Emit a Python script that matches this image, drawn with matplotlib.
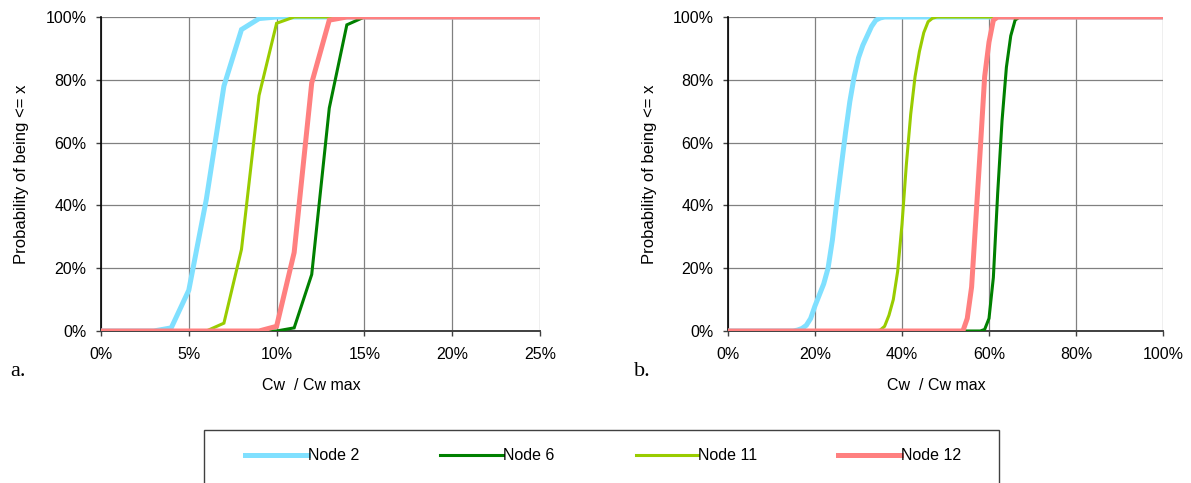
import matplotlib.pyplot as plt
from matplotlib.patches import Rectangle
from matplotlib.ticker import MultipleLocator, PercentFormatter

# Cumulative probability curves (x and y both in percent)
# panel a: Cw / Cw max from 0 to 25 %
a_node2_x = [0, 3, 4, 5, 6, 7, 8, 9, 10, 25]
a_node2_y = [0, 0, 1, 13, 42, 78, 96, 99.5, 100, 100]
a_node6_x = [0, 10, 11, 12, 13, 14, 15, 25]
a_node6_y = [0, 0, 1, 18, 71, 97.5, 100, 100]
a_node11_x = [0, 6, 7, 8, 9, 10, 11, 25]
a_node11_y = [0, 0, 2.5, 26, 75, 98, 100, 100]
a_node12_x = [0, 9, 10, 11, 12, 13, 14, 25]
a_node12_y = [0, 0, 1.5, 25, 79, 99, 100, 100]

# panel b: Cw / Cw max from 0 to 100 %
b_node2_x = [0, 15, 16, 17, 18, 19, 20, 21, 22, 23, 24, 25, 26, 27, 28, 29,
             30, 31, 32, 33, 34, 35, 36, 100]
b_node2_y = [0, 0, 0.3, 0.8, 1.8, 4, 8, 11.5, 15, 20, 29, 41, 52, 63, 73, 81,
             87, 91, 94, 97, 99, 99.7, 100, 100]
b_node6_x = [0, 58, 59, 60, 61, 62, 63, 64, 65, 66, 67, 100]
b_node6_y = [0, 0, 0.5, 4, 17, 44, 67, 84, 94, 99, 100, 100]
b_node11_x = [0, 34, 35, 36, 37, 38, 39, 40, 41, 42, 43, 44, 45, 46, 47, 48, 100]
b_node11_y = [0, 0, 0.3, 1.5, 5, 10, 19, 34, 53, 69, 81, 89, 95, 98.5, 99.6, 100, 100]
b_node12_x = [0, 54, 55, 56, 57, 58, 59, 60, 61, 62, 100]
b_node12_y = [0, 0, 4, 14, 36, 58, 81, 92, 99, 100, 100]

labels = ["Node 2", "Node 6", "Node 11", "Node 12"]
colors = ["#80E0FF", "#008000", "#99CC00", "#FF8080"]
widths = [3.6, 2.2, 2.2, 3.6]

panels = [
    dict(rect=[101 / 1191, 1 - 331 / 483, 439 / 1191, 314 / 483],
         xmax=25, step=5, tag="a.", tag_x=10,
         series=[(a_node2_x, a_node2_y), (a_node6_x, a_node6_y),
                 (a_node11_x, a_node11_y), (a_node12_x, a_node12_y)]),
    dict(rect=[728 / 1191, 1 - 331 / 483, 435 / 1191, 314 / 483],
         xmax=100, step=20, tag="b.", tag_x=634,
         series=[(b_node2_x, b_node2_y), (b_node6_x, b_node6_y),
                 (b_node11_x, b_node11_y), (b_node12_x, b_node12_y)]),
]

plt.rcParams["font.family"] = ["Liberation Sans", "DejaVu Sans"]

fig = plt.figure(figsize=(11.91, 4.83), dpi=100)

handles = []
for p in panels:
    ax = fig.add_axes(p["rect"])
    lines = []
    for (xs, ys), lab, col, lw in zip(p["series"], labels, colors, widths):
        ln, = ax.plot(xs, ys, color=col, lw=lw, label=lab,
                      solid_joinstyle="miter", zorder=3)
        lines.append(ln)
    handles = lines

    ax.set_xlim(0, p["xmax"])
    ax.set_ylim(0, 100)
    ax.xaxis.set_major_locator(MultipleLocator(p["step"]))
    ax.yaxis.set_major_locator(MultipleLocator(20))
    ax.xaxis.set_major_formatter(PercentFormatter(decimals=0))
    ax.yaxis.set_major_formatter(PercentFormatter(decimals=0))
    ax.grid(True, color="#808080", lw=0.9, zorder=0)
    ax.set_axisbelow(True)

    for side in ("top", "right"):
        ax.spines[side].set_visible(False)
    ax.spines["left"].set_color("black")
    ax.spines["bottom"].set_color("#404040")
    ax.spines["left"].set_linewidth(1.2)
    ax.spines["bottom"].set_linewidth(1.4)
    ax.spines["left"].set_zorder(2)
    ax.spines["bottom"].set_zorder(2)
    ax.tick_params(direction="out", length=3.5, width=1, color="#404040",
                   labelsize=11.5, pad=7)
    ax.tick_params(axis="x", pad=8)

    ax.set_ylabel("Probability of being <= x", fontsize=12)
    ax.yaxis.set_label_coords(-0.18, 0.5)
    ax.yaxis.label.set_verticalalignment("center")
    ax.set_xlabel("Cw  / Cw max", fontsize=11.5)
    ax.xaxis.set_label_coords(0.48, -0.15)

    fig.text(p["tag_x"] / 1191, 1 - 372 / 483, p["tag"],
             family="Liberation Serif", fontsize=16, va="center", ha="left")

# legend frame runs past the bottom edge of the figure
fig.patches.append(Rectangle((204 / 1191, 1 - 500 / 483), 795 / 1191, 70 / 483,
                             transform=fig.transFigure, fill=False,
                             edgecolor="#404040", lw=1.0))
fig.legend(handles, labels, loc="center left",
           bbox_to_anchor=(239 / 1191, 1 - 456 / 483), ncol=4, frameon=False,
           fontsize=11.5, handlelength=3.9, handletextpad=0.0,
           columnspacing=5.1, borderaxespad=0)

fig.savefig("out.png", dpi=100)
